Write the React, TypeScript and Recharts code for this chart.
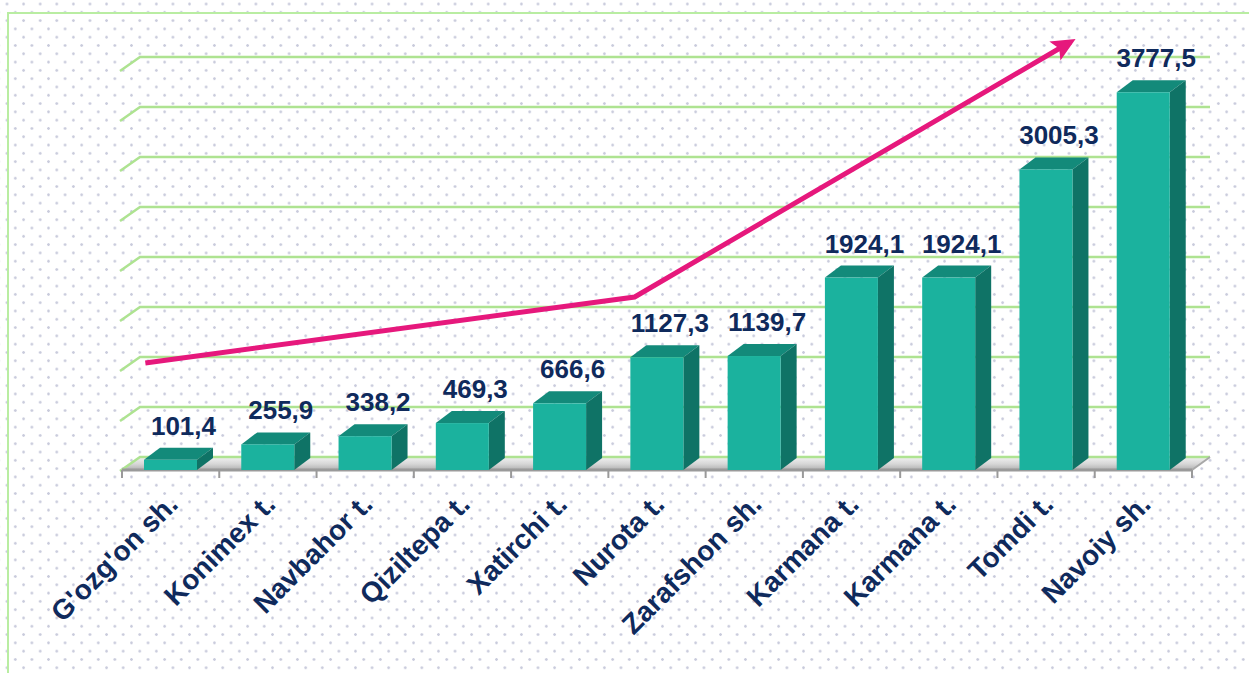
import React from "react";
import {
  ComposedChart,
  Bar,
  Scatter,
  XAxis,
  YAxis,
  CartesianGrid,
  LabelList,
} from "recharts";

const districts = [
  "G'ozg'on sh.",
  "Konimex t.",
  "Navbahor t.",
  "Qiziltepa t.",
  "Xatirchi t.",
  "Nurota t.",
  "Zarafshon sh.",
  "Karmana t.",
  "Karmana t.",
  "Tomdi t.",
  "Navoiy sh.",
];
const values = [
  101.4, 255.9, 338.2, 469.3, 666.6, 1127.3, 1139.7, 1924.1, 1924.1, 3005.3,
  3777.5,
];
const gridTicks = [0, 500, 1000, 1500, 2000, 2500, 3000, 3500, 4000];
const slotTicks = [0, 1, 2, 3, 4, 5, 6, 7, 8, 9, 10, 11];
// trend arrow, in slot units / value units
const arrowX = [0.24, 5.27, 9.75];
const arrowY = [1070, 1730, 4280];

const chartData = districts.map((name, i) => ({ name, value: values[i] }));
const arrowData = arrowX.map((x, i) => ({ x, y: arrowY[i] }));

const NAVY = "#0f2a5c";
const PINK = "#e6187c";
const GRID = "#aee391";
const FONT = "'Liberation Sans', Arial, sans-serif";

// depth of bars and of the back wall
const DX = 16;
const DY = 12;
const WX = 18;
const WY = 13;

function Bar3D(props: any) {
  const { x, y, width, height } = props;
  if (!height) return <g />;
  return (
    <g>
      <polygon
        points={`${x},${y} ${x + DX},${y - DY} ${x + width + DX},${y - DY} ${x + width},${y}`}
        fill="#138a7a"
      />
      <polygon
        points={`${x + width},${y} ${x + width + DX},${y - DY} ${x + width + DX},${y + height - DY} ${x + width},${y + height}`}
        fill="#0f7366"
      />
      <rect x={x} y={y} width={width} height={height} fill="#1bb29e" />
    </g>
  );
}

function gridLine(p: any) {
  const { x1, x2, y1, y, height, key } = p;
  // skip the plot's top edge, it is headroom for the arrow
  if (Math.abs(y1 - y) < 1) return <g key={key} />;
  const line = (
    <polyline
      points={`${x1 - 2},${y1 + 1} ${x1 + WX},${y1 - WY} ${x2 + WX},${y1 - WY}`}
      fill="none"
      stroke={GRID}
      strokeWidth={2.5}
    />
  );
  if (Math.abs(y1 - (y + height)) > 1) return <g key={key}>{line}</g>;
  return (
    <g key={key}>
      <defs>
        <linearGradient id="floorGrad" x1="0" y1="0" x2="0" y2="1">
          <stop offset="0%" stopColor="#f2f2f2" />
          <stop offset="55%" stopColor="#d6d6d6" />
          <stop offset="100%" stopColor="#b0b0b0" />
        </linearGradient>
      </defs>
      <polygon
        points={`${x1},${y1} ${x1 + WX},${y1 - WY} ${x2 + WX},${y1 - WY} ${x2},${y1}`}
        fill="url(#floorGrad)"
      />
      {line}
      <line
        x1={x2}
        y1={y1}
        x2={x2 + WX}
        y2={y1 - WY}
        stroke="#a8a8a8"
        strokeWidth={2}
      />
      <line
        x1={x1}
        y1={y1}
        x2={x2}
        y2={y1}
        stroke="#9a9a9a"
        strokeWidth={3}
      />
    </g>
  );
}

function EmptyTick() {
  return <g />;
}

function CatTick(props: any) {
  const { x, y, payload } = props;
  const tx = x + 9;
  const ty = y + 24;
  return (
    <text
      x={tx}
      y={ty}
      transform={`rotate(-45 ${tx} ${ty})`}
      textAnchor="end"
      fontSize={28}
      fontWeight="bold"
      fontFamily={FONT}
      fill={NAVY}
    >
      {payload.value}
    </text>
  );
}

function ValueLabel(props: any) {
  const { x, y, width, value } = props;
  return (
    <text
      x={x + width / 2 + 13}
      y={y - 25}
      textAnchor="middle"
      fontSize={26}
      fontWeight="bold"
      fontFamily={FONT}
      fill={NAVY}
    >
      {Number(value).toFixed(1).replace(".", ",")}
    </text>
  );
}

export default function App() {
  return (
    <div
      style={{
        position: "absolute",
        left: 0,
        top: 0,
        width: 1249,
        height: 673,
        overflow: "hidden",
        backgroundColor: "#ffffff",
        backgroundImage:
          "radial-gradient(circle, #c9cbdc 1px, transparent 1.6px), radial-gradient(circle, #c9cbdc 1px, transparent 1.6px)",
        backgroundSize: "16.6px 16.6px",
        backgroundPosition: "7px 4px, 15.3px 12.3px",
      }}
    >
      <div
        style={{
          position: "absolute",
          left: 7,
          top: 12,
          width: 1300,
          height: 700,
          border: "2px solid #b9eda2",
        }}
      />
      <svg width={0} height={0} style={{ position: "absolute" }}>
        <defs>
          <marker
            id="arrowHead"
            markerUnits="userSpaceOnUse"
            markerWidth={26}
            markerHeight={24}
            refX={18}
            refY={12}
            orient="auto"
          >
            <path d="M0,1 L24,12 L0,23 L5,12 Z" fill={PINK} />
          </marker>
        </defs>
      </svg>
      <div style={{ position: "absolute", left: 0, top: 0 }}>
        <ComposedChart
          width={1249}
          height={673}
          data={chartData}
          margin={{ top: 10, right: 57, bottom: 0, left: 122 }}
        >
          <CartesianGrid
            vertical={false}
            horizontal={gridLine}
            stroke={GRID}
          />
          <XAxis
            xAxisId="a"
            dataKey="x"
            type="number"
            domain={[0, 11]}
            ticks={slotTicks}
            interval={0}
            tick={<EmptyTick />}
            axisLine={false}
            tickLine={{ stroke: "#9a9a9a", strokeWidth: 2 }}
            tickSize={8}
            height={10}
          />
          <XAxis
            xAxisId="b"
            dataKey="name"
            interval={0}
            axisLine={false}
            tickLine={false}
            tickSize={0}
            tick={<CatTick />}
            height={193}
          />
          <YAxis
            domain={[0, 4600]}
            ticks={gridTicks}
            interval={0}
            width={0}
            tick={<EmptyTick />}
            axisLine={false}
            tickLine={false}
          />
          <Bar
            xAxisId="b"
            dataKey="value"
            barSize={53}
            shape={<Bar3D />}
            isAnimationActive={false}
          >
            <LabelList dataKey="value" content={<ValueLabel />} />
          </Bar>
          <Scatter
            xAxisId="a"
            data={arrowData}
            dataKey="y"
            line={{
              stroke: PINK,
              strokeWidth: 5,
              markerEnd: "url(#arrowHead)",
            }}
            lineJointType="linear"
            shape={() => <g />}
            isAnimationActive={false}
          />
        </ComposedChart>
      </div>
    </div>
  );
}
